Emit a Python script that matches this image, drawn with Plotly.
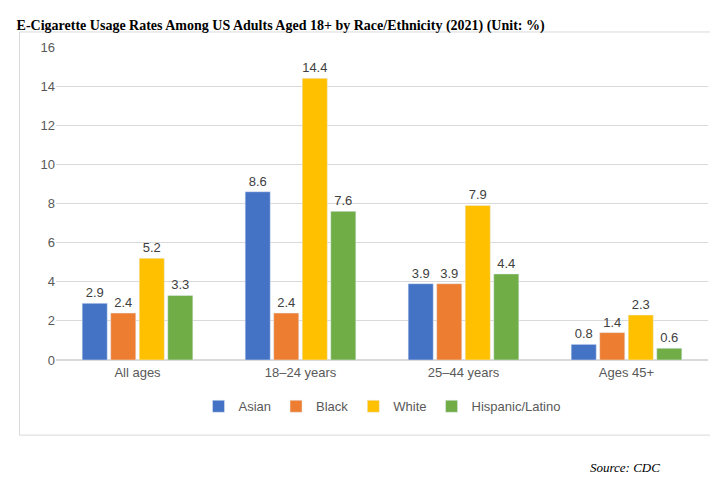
import plotly.graph_objects as go

categories = ["All ages", "18–24 years", "25–44 years", "Ages 45+"]
asian = [2.9, 8.6, 3.9, 0.8]
black = [2.4, 2.4, 3.9, 1.4]
white = [5.2, 14.4, 7.9, 2.3]
hispanic = [3.3, 7.6, 4.4, 0.6]

series = [
    ("Asian", asian, "#4472C4"),
    ("Black", black, "#ED7D31"),
    ("White", white, "#FFC000"),
    ("Hispanic/Latino", hispanic, "#70AD47"),
]

fig = go.Figure()
for name, vals, color in series:
    fig.add_trace(go.Bar(
        x=categories, y=vals, name=name, marker_color=color,
        text=[f"{v:.1f}" for v in vals], textposition="outside",
        textfont=dict(size=13, color="#404040"), cliponaxis=False,
    ))

fig.update_layout(
    width=718, height=484,
    paper_bgcolor="white", plot_bgcolor="white",
    margin=dict(l=48, r=18, t=39, b=132),
    barmode="group", bargap=0.3, bargroupgap=0.12,
    font=dict(family="Liberation Sans, Arial, sans-serif", size=13, color="#595959"),
    title=dict(
        text="<b>E-Cigarette Usage Rates Among US Adults Aged 18+ by Race/Ethnicity (2021) (Unit: %)</b>",
        x=0.012, xanchor="left", y=0.975, yanchor="top",
        font=dict(family="Liberation Serif, Times New Roman, serif", size=14, color="black"),
    ),
    legend=dict(orientation="h", x=0.5, xanchor="center", y=-0.1, yanchor="top",
                font=dict(size=13, color="#595959"), itemwidth=30, tracegroupgap=0),
    yaxis=dict(range=[0, 16], dtick=2, gridcolor="#D9D9D9", zeroline=True,
               zerolinecolor="#D9D9D9", tickfont=dict(size=13), ticks=""),
    xaxis=dict(tickfont=dict(size=13), showline=True, linecolor="#D9D9D9"),
    shapes=[dict(type="rect", xref="paper", yref="paper",
                 x0=-0.056, x1=1.018, y0=-0.24, y1=1.048,
                 line=dict(color="#D9D9D9", width=1))],
    annotations=[dict(text="<i>Source: CDC</i>", xref="paper", yref="paper",
                      x=0.93, y=-0.342, xanchor="right", yanchor="middle", showarrow=False,
                      font=dict(family="Liberation Serif, Times New Roman, serif", size=13, color="black"))],
)

fig.write_html("out.html")
